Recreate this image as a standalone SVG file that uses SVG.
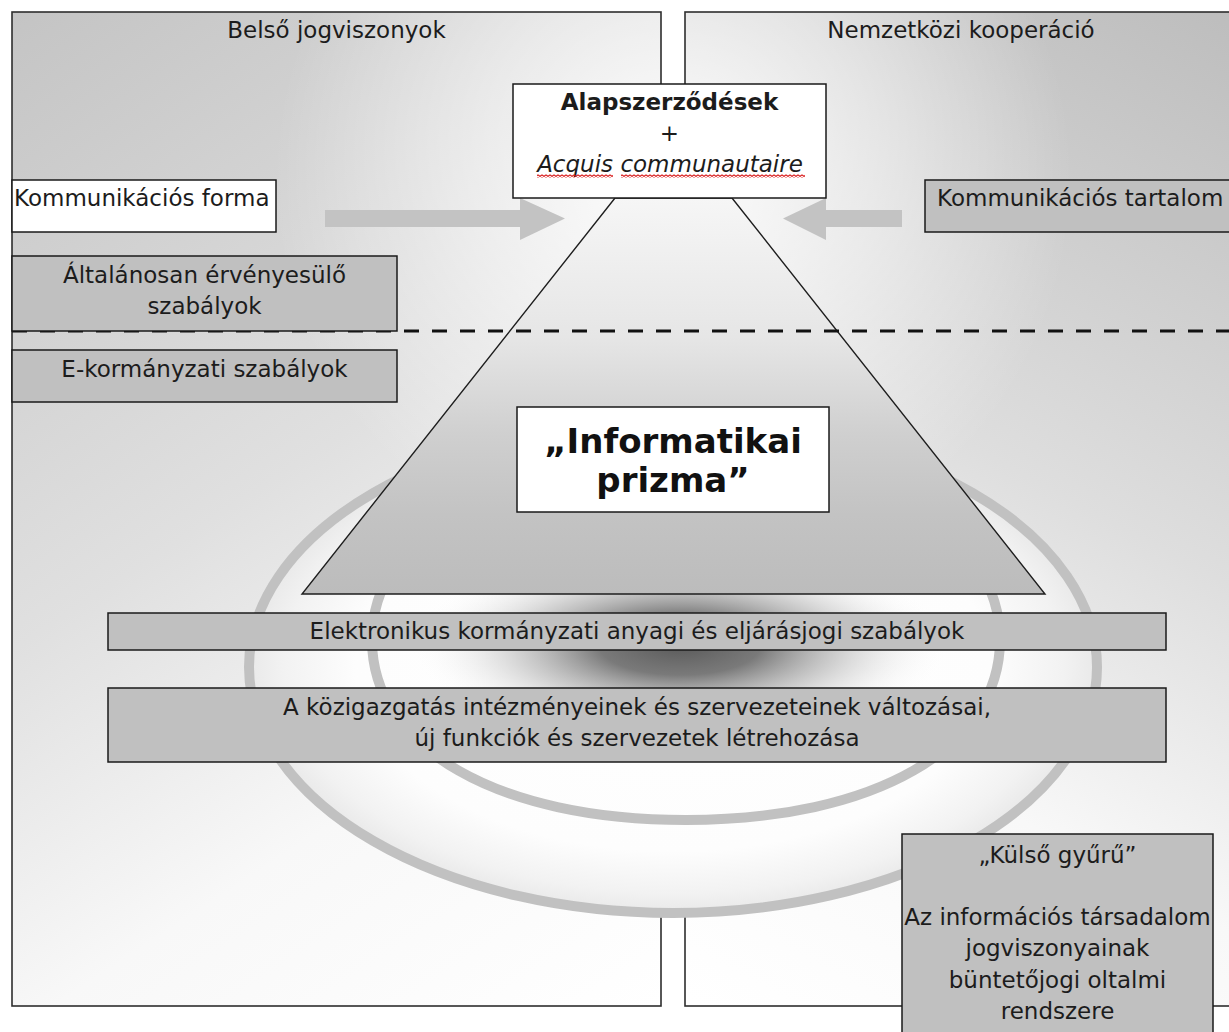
<svg xmlns="http://www.w3.org/2000/svg" width="1229" height="1032" viewBox="0 0 1229 1032">
<defs>
<style>
.t{font-family:"DejaVu Sans",Verdana,sans-serif;font-size:23px;fill:#1c1c1c}
.c{text-anchor:middle}
.b{font-weight:bold}
.i{font-style:italic}
.big{font-size:34px;fill:#111}
.box{stroke:#1a1a1a;stroke-width:1.5}
.panel{fill:none;stroke:#2e2e2e;stroke-width:1.6}
.gray{fill:#c0c0c0}
.white{fill:#ffffff}
.ring{fill:none;stroke:#c1c1c1;stroke-width:10}
.arrow{fill:#c3c3c3}
</style>
<linearGradient id="gL" gradientUnits="userSpaceOnUse" x1="12" y1="12" x2="661" y2="1006">
<stop offset="0" stop-color="#c4c4c4"/>
<stop offset="0.45" stop-color="#e0e0e0"/>
<stop offset="0.72" stop-color="#f8f8f8"/>
<stop offset="1" stop-color="#ffffff"/>
</linearGradient>
<linearGradient id="gR" gradientUnits="userSpaceOnUse" x1="1237" y1="12" x2="700" y2="1006">
<stop offset="0" stop-color="#bdbdbd"/>
<stop offset="0.45" stop-color="#dedede"/>
<stop offset="0.72" stop-color="#f8f8f8"/>
<stop offset="1" stop-color="#ffffff"/>
</linearGradient>
<radialGradient id="glow" gradientUnits="userSpaceOnUse" cx="673" cy="180" r="400">
<stop offset="0" stop-color="#ffffff" stop-opacity="0.95"/>
<stop offset="0.5" stop-color="#ffffff" stop-opacity="0.5"/>
<stop offset="1" stop-color="#ffffff" stop-opacity="0"/>
</radialGradient>
<radialGradient id="gRing" cx="0.5" cy="0.5" r="0.5">
<stop offset="0" stop-color="#ffffff"/>
<stop offset="0.75" stop-color="#fdfdfd"/>
<stop offset="0.92" stop-color="#f2f2f2"/>
<stop offset="1" stop-color="#e9e9e9"/>
</radialGradient>
<radialGradient id="gShadow" cx="0.5" cy="0.5" r="0.5">
<stop offset="0" stop-color="#5a5a5a" stop-opacity="1"/>
<stop offset="0.3" stop-color="#6e6e6e" stop-opacity="0.92"/>
<stop offset="0.6" stop-color="#acacac" stop-opacity="0.55"/>
<stop offset="1" stop-color="#ffffff" stop-opacity="0"/>
</radialGradient>
<linearGradient id="gPrism" x1="0" y1="0" x2="0" y2="1">
<stop offset="0" stop-color="#f6f6f6"/>
<stop offset="0.35" stop-color="#e6e6e6"/>
<stop offset="0.6" stop-color="#cfcfcf"/>
<stop offset="0.8" stop-color="#c3c3c3"/>
<stop offset="1" stop-color="#bcbcbc"/>
</linearGradient>
<pattern id="sq" width="4" height="3" patternUnits="userSpaceOnUse">
<path d="M0,2.5 L2,0.5 L4,2.5" fill="none" stroke="#d81818" stroke-width="1.2"/>
</pattern>
</defs>

<rect width="1229" height="1032" fill="#ffffff"/>

<g id="panel-belso">
<rect x="12" y="12" width="649" height="994" fill="url(#gL)"/>
<rect x="12" y="12" width="649" height="994" fill="url(#glow)"/>
<rect x="12" y="12" width="649" height="994" class="panel"/>
<text class="t c" x="336.5" y="38">Belső jogviszonyok</text>
</g>

<g id="panel-nemzetkozi">
<rect x="685" y="12" width="560" height="994" fill="url(#gR)"/>
<rect x="685" y="12" width="560" height="994" fill="url(#glow)"/>
<rect x="685" y="12" width="560" height="994" class="panel"/>
<text class="t c" x="961" y="38">Nemzetközi kooperáció</text>
</g>

<g id="kulso-gyuru-ring">
<ellipse cx="673" cy="667" rx="424" ry="246" fill="url(#gRing)"/>
<ellipse cx="680" cy="645" rx="270" ry="100" fill="url(#gShadow)"/>
<ellipse cx="673" cy="667" rx="424" ry="246" class="ring"/>
<path class="ring" d="M372,640 C372,748 497.6,820 686,820 C874.4,820 1000,748 1000,640 C1000,532 874.4,460 686,460 C497.6,460 372,532 372,640 Z"/>
</g>

<g id="prizma">
<path d="M615,198 L732,198 L1045,594 L302,594 Z" fill="url(#gPrism)" stroke="#1e1e1e" stroke-width="1.4"/>
</g>

<g id="connectors">
<polygon class="arrow" points="325,210 520,210 520,198 565,218.5 520,240 520,227 325,227"/>
<polygon class="arrow" points="902,210 826,210 826,198 783,218.5 826,240 826,227 902,227"/>
<line x1="12" y1="331" x2="1229" y2="331" stroke="#111" stroke-width="3" stroke-dasharray="15 13"/>
</g>

<g id="alapszerzodesek">
<rect x="513" y="84" width="313" height="114" class="box white"/>
<text class="t c b" x="669.5" y="110">Alapszerződések</text>
<text class="t c" x="669.5" y="141">+</text>
<text class="t c i" x="670" y="172">Acquis communautaire</text>
<rect x="537" y="174.5" width="76" height="3" fill="url(#sq)"/>
<rect x="621" y="174.5" width="184" height="3" fill="url(#sq)"/>
</g>

<g id="kommunikacios-forma">
<rect x="12" y="180" width="264" height="52" class="box white"/>
<text class="t" x="14" y="206">Kommunikációs forma</text>
</g>

<g id="kommunikacios-tartalom">
<rect x="925" y="180" width="320" height="52" class="box gray"/>
<text class="t" x="937" y="206">Kommunikációs tartalom</text>
</g>

<g id="altalanosan">
<rect x="12" y="256" width="385" height="75" class="box gray"/>
<text class="t c" x="204.5" y="283">Általánosan érvényesülő</text>
<text class="t c" x="204.5" y="314">szabályok</text>
</g>

<g id="e-kormanyzati">
<rect x="12" y="350" width="385" height="52" class="box gray"/>
<text class="t c" x="204.5" y="377">E-kormányzati szabályok</text>
</g>

<g id="informatikai-prizma">
<rect x="517" y="407" width="312" height="105" class="box white"/>
<text class="t c b big" x="673" y="453">„Informatikai</text>
<text class="t c b big" x="673" y="492">prizma”</text>
</g>

<g id="elektronikus">
<rect x="108" y="613" width="1058" height="37" class="box gray"/>
<text class="t c" x="637" y="639">Elektronikus kormányzati anyagi és eljárásjogi szabályok</text>
</g>

<g id="kozigazgatas">
<rect x="108" y="688" width="1058" height="74" class="box gray"/>
<text class="t c" x="637" y="715">A közigazgatás intézményeinek és szervezeteinek változásai,</text>
<text class="t c" x="637" y="746">új funkciók és szervezetek létrehozása</text>
</g>

<g id="kulso-gyuru">
<rect x="902" y="834" width="311" height="220" class="box gray"/>
<text class="t c" x="1057.5" y="863">„Külső gyűrű”</text>
<text class="t c" x="1057.5" y="925">Az információs társadalom</text>
<text class="t c" x="1057.5" y="956">jogviszonyainak</text>
<text class="t c" x="1057.5" y="988">büntetőjogi oltalmi</text>
<text class="t c" x="1057.5" y="1019">rendszere</text>
</g>
</svg>
